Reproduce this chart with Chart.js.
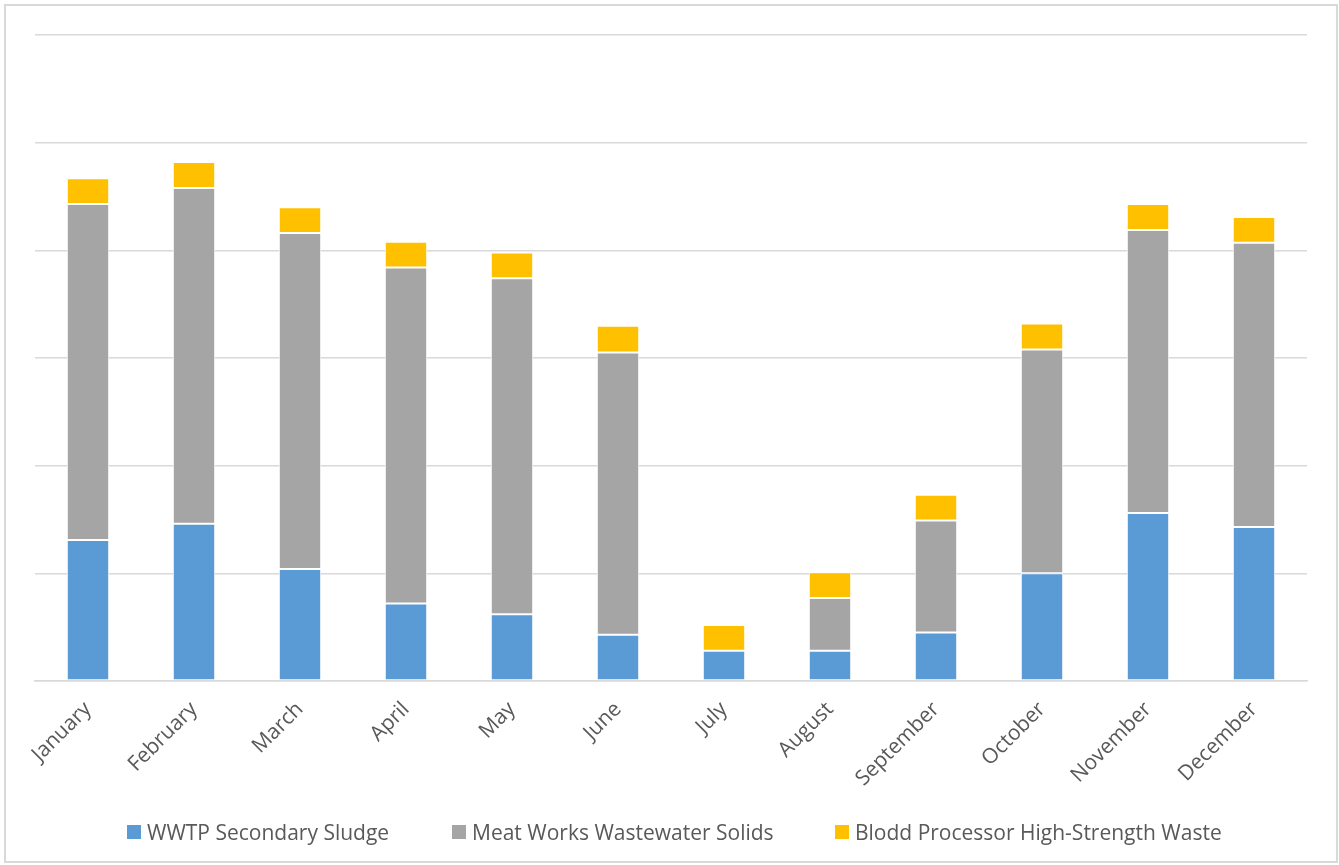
<!DOCTYPE html>
<html>
<head>
<meta charset="utf-8">
<script src="https://cdn.jsdelivr.net/npm/chart.js@4"></script>
<style>
  html, body { margin: 0; padding: 0; background: #fff; }
  #wrap { position: absolute; left: 0; top: 0; width: 1339px; height: 865px; }
  #frame { position: absolute; left: 4px; top: 4px; width: 1330px; height: 855px; border: 2px solid #d9d9d9; pointer-events: none; }
  .leg { position: absolute; top: 818px; height: 28px; font-family: "Open Sans", Lato, sans-serif; font-size: 21px; color: #595959; white-space: nowrap; line-height: 28px; display: flex; align-items: center; }
  .leg span.sw { display: inline-block; width: 14px; height: 14px; margin-right: 6px; }
</style>
</head>
<body>
<div id="wrap"><canvas id="c" width="1339" height="865"></canvas></div>
<div id="frame"></div>
<div id="legend"></div>
<script>
const categories = ["January","February","March","April","May","June","July","August","September","October","November","December"];
const seriesNames = ["WWTP Secondary Sludge","Meat Works Wastewater Solids","Blodd Processor High-Strength Waste"];
const wwtp  = [13.1, 14.6, 10.4, 7.2, 6.2, 4.3, 2.8, 2.8, 4.5, 10.0, 15.6, 14.3];
const meat  = [31.2, 31.2, 31.2, 31.2, 31.2, 26.2, 0, 4.9, 10.4, 20.8, 26.3, 26.4];
const blood = [2.4, 2.4, 2.4, 2.4, 2.4, 2.5, 2.4, 2.4, 2.4, 2.4, 2.4, 2.4];
const colors = ["#5b9bd5", "#a5a5a5", "#ffc000"];
const legendX = [127, 452, 835];

const font = '"Open Sans", Lato, sans-serif';

const datasets = [wwtp, meat, blood].map((d, i) => ({
  label: seriesNames[i],
  data: d,
  backgroundColor: colors[i],
  borderColor: "#ffffff",
  borderWidth: 1,
  borderSkipped: false,
  barPercentage: 0.4,
  categoryPercentage: 1.0
}));

new Chart(document.getElementById("c"), {
  type: "bar",
  data: { labels: categories, datasets },
  options: {
    responsive: false,
    animation: false,
    layout: { padding: { left: 35, top: 35, right: 32, bottom: 0 } },
    plugins: { legend: { display: false }, tooltip: { enabled: false } },
    scales: {
      x: {
        stacked: true,
        grid: { display: false },
        border: { display: true, color: "#d9d9d9", width: 1.5 },
        ticks: {
          minRotation: 45, maxRotation: 45,
          color: "#595959",
          font: { family: font, size: 21 },
          padding: 8
        },
        afterFit: s => { s.height = 184; }
      },
      y: {
        stacked: true,
        min: 0, max: 60,
        ticks: { display: false, stepSize: 10 },
        grid: { color: "#d9d9d9", lineWidth: 1.5, drawTicks: false },
        border: { display: false },
        afterFit: s => { s.width = 0; }
      }
    }
  }
});

const leg = document.getElementById("legend");
seriesNames.forEach((n, i) => {
  const d = document.createElement("div");
  d.className = "leg";
  d.style.left = legendX[i] + "px";
  d.innerHTML = '<span class="sw" style="background:' + colors[i] + '"></span>' + n;
  leg.appendChild(d);
});
</script>
</body>
</html>
